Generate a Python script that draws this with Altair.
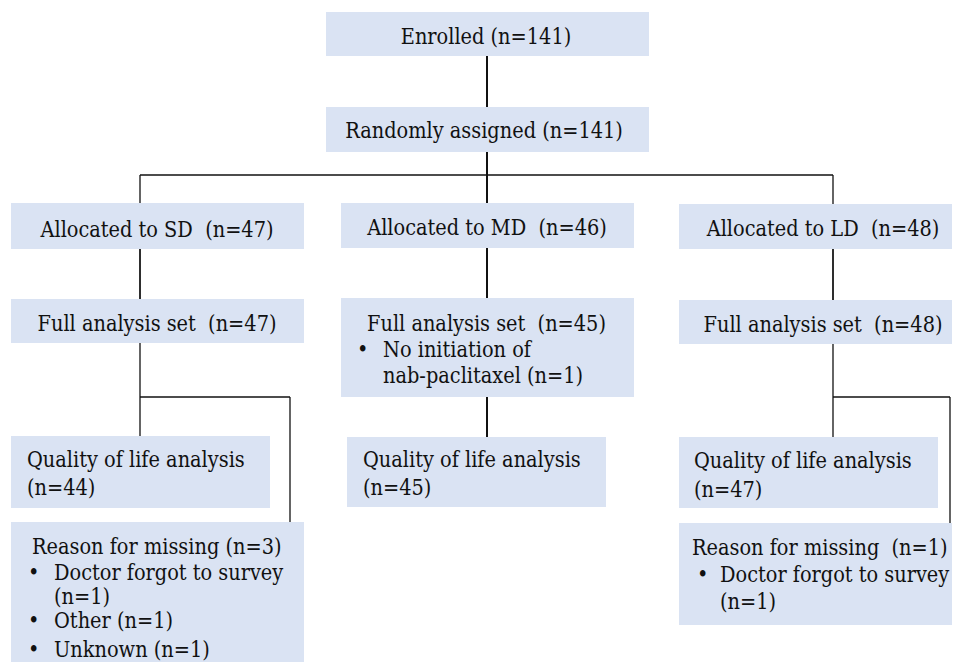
import altair as alt
import pandas as pd

# ---- text content ----
box_names = ["Enrolled", "Randomized", "AllocSD", "AllocMD", "AllocLD",
             "FullSD", "FullMD", "FullLD", "QolSD", "QolMD", "QolLD",
             "MissSD", "MissLD"]
NB = "\u00a0"
center_lines = [
    "Enrolled (n=141)",
    "Randomly assigned (n=141)",
    "Allocated to SD" + NB + " (n=47)",
    "Allocated to MD" + NB + " (n=46)",
    "Allocated to LD" + NB + " (n=48)",
    "Full analysis set" + NB + " (n=47)",
    "Full analysis set" + NB + " (n=48)",
]
left_lines = [
    "Full analysis set" + NB + " (n=45)",
    "•",
    "No initiation of",
    "nab-paclitaxel (n=1)",
    "Quality of life analysis",
    "(n=44)",
    "Quality of life analysis",
    "(n=45)",
    "Quality of life analysis",
    "(n=47)",
    "Reason for missing (n=3)",
    "•", "Doctor forgot to survey", "(n=1)",
    "•", "Other (n=1)",
    "•", "Unknown (n=1)",
    "Reason for missing" + NB + " (n=1)",
    "•", "Doctor forgot to survey", "(n=1)",
]

# ---- layout (page pixel coordinates) ----
box_x1 = [326, 326, 11, 341, 679, 11, 341, 679, 11, 347, 679, 11, 679]
box_x2 = [649, 649, 304, 634, 960, 304, 634, 960, 270, 606, 938, 304, 960]
box_y1 = [12, 107, 203, 203, 204, 299, 298, 300, 436, 437, 437, 522, 523]
box_y2 = [56, 152, 249, 248, 249, 343, 397, 344, 508, 507, 508, 669, 625]

center_x = [486, 484, 157, 487, 823, 157, 823]
center_y = [44, 138, 237, 235, 236, 331, 332]

left_x = [367, 357, 383, 383,
          27, 27, 363, 363, 694, 694,
          32, 28, 54, 54, 28, 54, 28, 54,
          692, 697, 720, 720]
left_y = [331, 357, 357, 383,
          467, 495, 467, 495, 468, 497,
          554, 580, 580, 604, 628, 628, 657, 657,
          555, 582, 582, 609]

rule_x1 = [487, 487, 140, 487, 140, 487, 833, 140, 140, 290, 487, 833, 833, 950]
rule_x2 = [487, 487, 833, 487, 140, 487, 833, 140, 290, 290, 487, 833, 950, 950]
rule_y1 = [56, 152, 175, 175, 175, 248, 175, 249, 397, 397, 397, 249, 397, 397]
rule_y2 = [107, 203, 175, 203, 299, 298, 300, 436, 397, 522, 437, 437, 397, 523]
rule_w = [2, 2, 1.3, 2, 1.3, 2, 1.3, 1.3, 1.3, 1.3, 2, 1.3, 1.3, 1.3]

boxes = pd.DataFrame({"name": box_names, "x1": box_x1, "x2": box_x2,
                      "y1": box_y1, "y2": box_y2})
ctexts = pd.DataFrame({"label": center_lines, "x": center_x, "y": center_y})
ltexts = pd.DataFrame({"label": left_lines, "x": left_x, "y": left_y})
rules = pd.DataFrame({"x1": rule_x1, "x2": rule_x2, "y1": rule_y1,
                      "y2": rule_y2, "w": rule_w})

W, H = 944, 654
xs = alt.Scale(domain=[8, 8 + W], nice=False, zero=False)
ys = alt.Scale(domain=[8, 8 + H], nice=False, zero=False, reverse=True)

FONT = "DejaVu Serif Condensed"
FS = 21.5

rect = alt.Chart(boxes).mark_rect(color="#dae3f3").encode(
    x=alt.X("x1:Q", scale=xs, axis=None),
    x2="x2:Q",
    y=alt.Y("y1:Q", scale=ys, axis=None),
    y2="y2:Q",
)

lines = alt.Chart(rules).mark_rule(color="#111111").encode(
    x=alt.X("x1:Q", scale=xs, axis=None),
    x2="x2:Q",
    y=alt.Y("y1:Q", scale=ys, axis=None),
    y2="y2:Q",
    strokeWidth=alt.StrokeWidth("w:Q", scale=None),
)

clabel = alt.Chart(ctexts).mark_text(
    align="center", baseline="alphabetic", font=FONT, fontSize=FS,
    color="#111111"
).encode(
    x=alt.X("x:Q", scale=xs, axis=None),
    y=alt.Y("y:Q", scale=ys, axis=None),
    text="label:N",
)

llabel = alt.Chart(ltexts).mark_text(
    align="left", baseline="alphabetic", font=FONT, fontSize=FS,
    color="#111111"
).encode(
    x=alt.X("x:Q", scale=xs, axis=None),
    y=alt.Y("y:Q", scale=ys, axis=None),
    text="label:N",
)

chart = alt.layer(lines, rect, clabel, llabel).properties(
    width=W, height=H, padding=0, autosize=alt.AutoSizeParams(type="none")
).configure_view(stroke=None)

chart.save("out.html", embed_options={"renderer": "svg", "actions": False})
